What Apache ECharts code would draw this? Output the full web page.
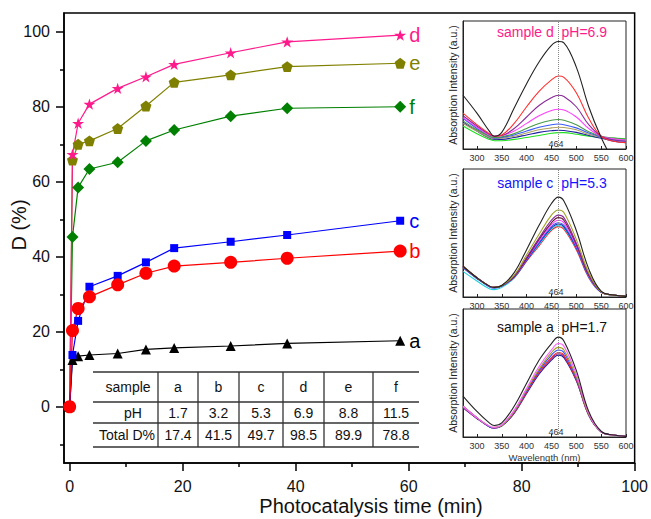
<!DOCTYPE html>
<html>
<head>
<meta charset="utf-8">
<title>D vs photocatalysis time</title>
<script src="https://cdn.jsdelivr.net/npm/echarts@6/dist/echarts.min.js"></script>
<style>
  html, body { margin: 0; padding: 0; background: #fff; }
  #chart { width: 651px; height: 519px; }
</style>
</head>
<body>
<div id="chart"></div>
<script>
// main plot data
const times = [0, 0.5, 1.5, 3.5, 8.5, 13.5, 18.5, 28.5, 38.5, 58.5];
const aVals = [0, 12.5, 13.5, 13.8, 14.2, 15.3, 15.7, 16.2, 16.9, 17.6];
const bVals = [0, 20.3, 26.2, 29.3, 32.5, 35.6, 37.5, 38.5, 39.6, 41.5];
const cVals = [0, 13.8, 22.9, 32.0, 34.9, 38.5, 42.3, 44.0, 45.8, 49.6];
const dVals = [0, 67.3, 75.6, 80.7, 84.9, 88.0, 91.3, 94.4, 97.3, 99.1];
const eVals = [0, 65.8, 70.0, 70.9, 74.2, 80.2, 86.5, 88.5, 90.7, 91.6];
const fVals = [0, 45.3, 58.5, 63.4, 65.2, 70.9, 73.8, 77.5, 79.6, 80.0];

const xMajor = [0, 20, 40, 60, 80, 100];
const xMinor = [10, 30, 50, 70, 90];
const yMajor = [0, 20, 40, 60, 80, 100];
const yMinor = [-10, 10, 30, 50, 70, 90];

// table
const tableSamples = ['a', 'b', 'c', 'd', 'e', 'f'];
const tablePH = ['1.7', '3.2', '5.3', '6.9', '8.8', '11.5'];
const tableTotalD = ['17.4', '41.5', '49.7', '98.5', '89.9', '78.8'];

// inset spectra (wavelength nm, intensity in frame %)
const wl = [272, 300, 325, 335, 350, 375, 400, 425, 450, 464, 475, 500, 525, 550, 575, 600];
const wlTicks = [300, 350, 400, 450, 500, 550, 600];

const specD = [
  [42, 28, 14, 10, 13, 32, 51, 68, 81, 84, 83, 64, 33, 9, -10, -28],
  [28, 19, 12, 10, 11, 20, 33, 45, 54, 57, 56, 44, 24, 10, 6, 5],
  [26, 18, 11.5, 10, 10.5, 16, 25, 34, 40, 42, 41, 33, 19, 10, 7, 6],
  [24.5, 17, 11, 10, 10.5, 14, 20, 26, 30, 31, 30.5, 25, 16, 10, 8, 7],
  [22, 15, 10, 9, 9.5, 12, 16, 20, 22.5, 23, 22.5, 19, 13.5, 10, 8.5, 7.5],
  [24, 16, 10, 8.5, 9, 11, 14, 17, 19, 19.5, 19, 16.5, 12.5, 9.5, 7, 6],
  [20, 14, 9, 8, 8.5, 10, 12.5, 15, 16.5, 17, 16.8, 15, 11.5, 9, 7.5, 6.5],
  [21, 14, 8.5, 7.5, 7.5, 9, 11, 13, 14.3, 14.7, 14.5, 13, 10.5, 8.5, 6, 5],
  [18, 12, 7.5, 6.5, 6.5, 7.5, 9, 10.5, 12.3, 12.8, 12.8, 11.5, 10, 9, 8.5, 8]
];
const colorsD = ['#222222', '#ff3030', '#8a2a9a', '#ff40ff', '#4a9a4a', '#3a5aff', '#b0a060', '#2020a0', '#20e020'];

const specC = [
  [24, 15, 8.5, 7.5, 9, 19, 37, 56, 73, 78, 75, 52, 22, 4.5, 1.5, 0.5],
  [24, 15, 8.5, 7.5, 9, 17, 33, 49, 64, 68, 66, 45, 19, 4, 1.5, 0.5],
  [24, 15, 8.5, 7.5, 9, 16.5, 31, 46, 60, 64, 62, 42, 18, 4, 1.5, 0.5],
  [23.5, 15, 8.5, 7.5, 8.8, 16, 30, 45, 58, 62, 60, 41, 17, 4, 1.5, 0.5],
  [23.5, 15, 8.5, 7.5, 8.7, 16, 29.5, 44, 56.5, 60, 58, 40, 16.5, 4, 1.5, 0.5],
  [23, 14.5, 8, 7, 8.5, 15.5, 29, 42.5, 55, 58, 56, 39, 16, 3.8, 1.5, 0.5],
  [23, 14.5, 8, 7, 8.5, 15.5, 28.5, 42, 54, 57, 55, 38.5, 16, 3.8, 1.5, 0.5],
  [20, 12.5, 6.5, 5.8, 7.5, 15, 28.5, 41, 53, 56, 54, 38, 15.5, 3.6, 1.5, 0.5],
  [24, 15, 8.5, 7.5, 8.5, 15, 28, 40, 52, 55, 53, 37, 15, 3.5, 1.5, 0.5]
];
const colorsC = ['#222222', '#a0a020', '#8a2a9a', '#6a1a3a', '#ff40ff', '#3a5aff', '#2020a0', '#20d0e0', '#ff2020'];

const specA = [
  [32, 20, 11, 9, 11, 24, 42, 60, 73, 78, 75, 52, 20, 4.5, 1.5, 0.5],
  [24, 15, 8.5, 7.5, 9.5, 21, 38, 55, 68, 73, 71, 49, 19, 4, 1.5, 0.5],
  [24, 15, 8.5, 7.5, 9, 20, 37, 53, 66, 70, 68, 47, 18, 4, 1.5, 0.5],
  [24, 15, 8, 7, 9, 19.5, 36, 52, 64, 68, 66, 46, 18, 4, 1.5, 0.5],
  [24, 15, 8, 7, 9, 19, 35, 51, 62, 66, 64, 45, 17.5, 4, 1.5, 0.5],
  [23, 14.5, 8, 7, 8.8, 19, 35, 50, 61, 65, 63, 44.5, 17, 4, 1.5, 0.5],
  [23, 14.5, 8, 7, 8.5, 18.5, 34, 49, 60, 64, 62, 44, 17, 4, 1.5, 0.5]
];
const colorsA = ['#222222', '#ff60ff', '#a0a020', '#3050ff', '#ff2020', '#8a2a9a', '#2020a0'];

const font = 'Liberation Sans, Arial, sans-serif';
const starPath = 'path://M50,0 L61,35 L98,35 L68,57 L79,91 L50,70 L21,91 L32,57 L2,35 L39,35 Z';
const pentPath = 'path://M50,0 L98,36 L80,95 L20,95 L2,36 Z';

const chart = echarts.init(document.getElementById('chart'), null, { renderer: 'svg' });

function mainSeries(name, vals, color, symbol, size) {
  return {
    name: name,
    type: 'line',
    xAxisIndex: 0,
    yAxisIndex: 0,
    data: times.map((t, i) => [t, vals[i]]),
    symbol: symbol,
    symbolSize: size,
    symbolKeepAspect: true,
    showAllSymbol: true,
    lineStyle: { color: color, width: 1.2 },
    itemStyle: { color: color, borderWidth: 0 },
    endLabel: {
      show: true, formatter: name, color: color,
      fontSize: 20, fontFamily: font, distance: 9
    }
  };
}

// inset layout
const insets = [
  { top: 21, spec: specD, colors: colorsD, title: 'sample d\u00a0\u00a0pH=6.9', titleColor: '#ff1a8c', titleY: 32 },
  { top: 169, spec: specC, colors: colorsC, title: 'sample c\u00a0\u00a0pH=5.3', titleColor: '#1414ff', titleY: 183 },
  { top: 309, spec: specA, colors: colorsA, title: 'sample a\u00a0\u00a0pH=1.7', titleColor: '#111111', titleY: 327 }
];
const insetLeft = 463, insetWidth = 163, insetHeight = 128;

const grids = [{ left: 64, top: 13, width: 571, height: 450, show: true, borderColor: '#000', borderWidth: 1.5 }];
const xAxes = [
  {
    gridIndex: 0, type: 'value', min: -1, max: 100, position: 'bottom',
    axisLine: { onZero: false, lineStyle: { color: '#000', width: 1.5 } },
    axisTick: { customValues: xMajor, length: 8, lineStyle: { color: '#000', width: 1.5 } },
    axisLabel: { customValues: xMajor, margin: 15, fontSize: 16, color: '#111', fontFamily: font },
    splitLine: { show: false }
  },
  {
    gridIndex: 0, type: 'value', min: -1, max: 100, position: 'bottom',
    axisLine: { show: false, onZero: false },
    axisTick: { customValues: xMinor, length: 4, lineStyle: { color: '#000', width: 1.5 } },
    axisLabel: { show: false }, splitLine: { show: false }
  }
];
const yAxes = [
  {
    gridIndex: 0, type: 'value', min: -15, max: 105, position: 'left',
    axisLine: { show: true, onZero: false, lineStyle: { color: '#000', width: 1.5 } },
    axisTick: { show: true, customValues: yMajor, length: 8, lineStyle: { color: '#000', width: 1.5 } },
    axisLabel: { customValues: yMajor, margin: 14, fontSize: 16, color: '#111', fontFamily: font },
    splitLine: { show: false }
  },
  {
    gridIndex: 0, type: 'value', min: -15, max: 105, position: 'left',
    axisLine: { show: false, onZero: false },
    axisTick: { show: true, customValues: yMinor, length: 4, lineStyle: { color: '#000', width: 1.5 } },
    axisLabel: { show: false }, splitLine: { show: false }
  }
];

const series = [
  mainSeries('f', fVals, '#008000', 'diamond', 12),
  mainSeries('e', eVals, '#808000', pentPath, 11),
  mainSeries('d', dVals, '#ff1a8c', starPath, 12),
  mainSeries('a', aVals, '#000000', 'triangle', 10),
  mainSeries('c', cVals, '#0000ff', 'rect', 8),
  mainSeries('b', bVals, '#ff0000', 'circle', 13)
];

const graphic = [];

insets.forEach((ins, k) => {
  const gi = k + 1;
  grids.push({ left: insetLeft, top: ins.top, width: insetWidth, height: insetHeight, show: true, borderColor: '#222', borderWidth: 1 });
  xAxes.push({
    gridIndex: gi, type: 'value', min: 272, max: 600, position: 'bottom',
    name: k === 2 ? 'Wavelength (nm)' : '',
    nameLocation: 'middle', nameGap: 15,
    nameTextStyle: { fontSize: 9.5, color: '#333', fontFamily: font },
    axisLine: { onZero: false, lineStyle: { color: '#222', width: 1 } },
    axisTick: { customValues: wlTicks, inside: true, length: 3, lineStyle: { color: '#222' } },
    axisLabel: { customValues: wlTicks, margin: 4, fontSize: 9, color: '#333', fontFamily: font },
    splitLine: { show: false }
  });
  yAxes.push({
    gridIndex: gi, type: 'value', min: 0, max: 100, position: 'left',
    name: 'Absorption Intensity (a.u.)',
    nameLocation: 'middle', nameRotate: 90, nameGap: 5,
    nameTextStyle: { fontSize: 10.5, color: '#222', fontFamily: font },
    axisLine: { show: true, onZero: false, lineStyle: { color: '#222', width: 1 } },
    axisTick: { show: false }, axisLabel: { show: false }, splitLine: { show: false }
  });
  ins.spec.forEach((vals, j) => {
    const s = {
      type: 'line',
      xAxisIndex: gi + 1,
      yAxisIndex: gi + 1,
      data: wl.map((w, i) => [w, vals[i]]),
      showSymbol: false,
      smooth: 0.4,
      lineStyle: { color: ins.colors[j], width: 1.1 },
      z: 2 + (ins.spec.length - j) * 0.01
    };
    if (j === 0) {
      s.markLine = {
        silent: true, symbol: ['none', 'none'],
        label: { show: false },
        lineStyle: { type: 'dotted', color: '#888', width: 1 },
        data: [{ xAxis: 464 }]
      };
    }
    series.push(s);
  });
  graphic.push({
    type: 'text', x: 552, y: ins.titleY,
    style: { text: ins.title, fill: ins.titleColor, font: '14px ' + font, align: 'center', verticalAlign: 'middle' }
  });
  graphic.push({
    type: 'text', x: 556, y: ins.top + insetHeight - 5,
    style: { text: '464', fill: '#333', font: '9px ' + font, align: 'center', verticalAlign: 'middle' }
  });
});

// axis titles
graphic.push({
  type: 'text', x: 19, y: 225, rotation: Math.PI / 2,
  style: { text: 'D (%)', fill: '#111', font: '20px ' + font, align: 'center', verticalAlign: 'middle' }
});
graphic.push({
  type: 'text', x: 371, y: 506,
  style: { text: 'Photocatalysis time (min)', fill: '#111', font: '20px ' + font, align: 'center', verticalAlign: 'middle' }
});

// table
const colEdges = [93, 158, 198, 239, 283, 324, 373, 419];
const rowLines = [372, 402, 423, 447];
const rowMid = [387, 412.5, 435];
rowLines.forEach(y => {
  graphic.push({ type: 'line', shape: { x1: colEdges[0], y1: y, x2: colEdges[colEdges.length - 1], y2: y }, style: { stroke: '#333', lineWidth: 1.3 } });
});
colEdges.slice(1, -1).forEach(x => {
  graphic.push({ type: 'line', shape: { x1: x, y1: rowLines[0], x2: x, y2: rowLines[3] }, style: { stroke: '#333', lineWidth: 1.3 } });
});
const rowHeads = ['sample', 'pH', 'Total D%'];
const headX = [128, 133, 127];
const rowsData = [tableSamples, tablePH, tableTotalD];
rowHeads.forEach((h, r) => {
  graphic.push({ type: 'text', x: headX[r], y: rowMid[r], style: { text: h, fill: '#111', font: '14px ' + font, align: 'center', verticalAlign: 'middle' } });
  rowsData[r].forEach((v, c) => {
    const cx = (colEdges[c + 1] + colEdges[c + 2]) / 2;
    graphic.push({ type: 'text', x: cx, y: rowMid[r], style: { text: v, fill: '#111', font: '14px ' + font, align: 'center', verticalAlign: 'middle' } });
  });
});

chart.setOption({
  animation: false,
  backgroundColor: '#fff',
  grid: grids,
  xAxis: xAxes,
  yAxis: yAxes,
  series: series,
  graphic: graphic
});
</script>
</body>
</html>
